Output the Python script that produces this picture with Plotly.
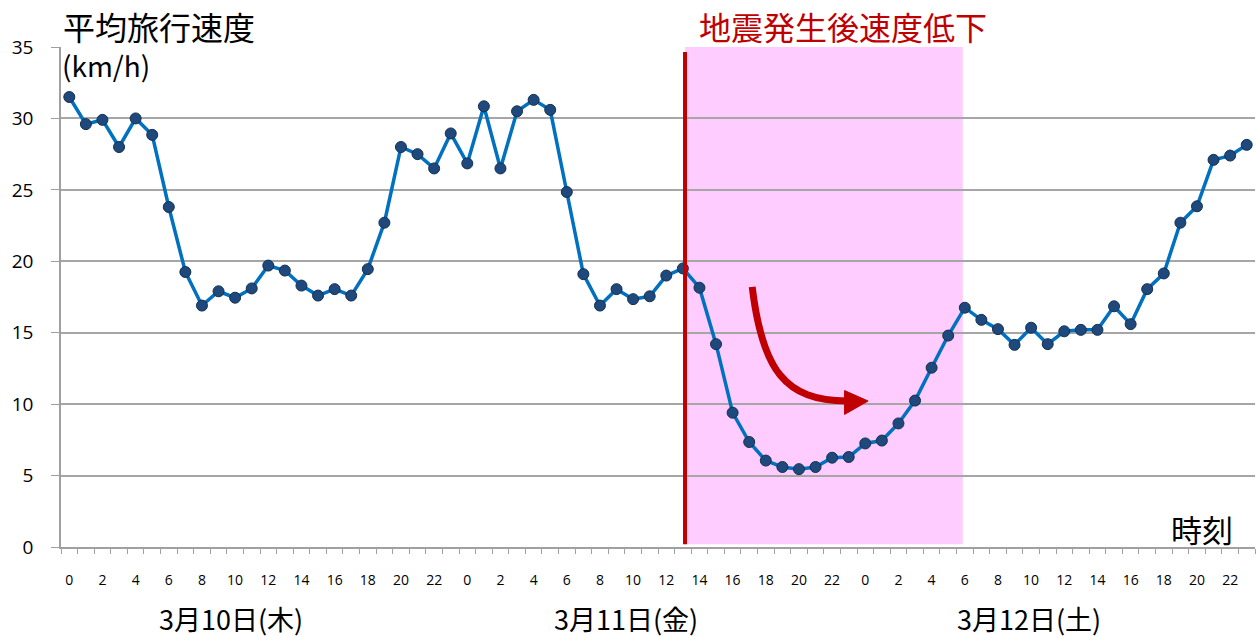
import plotly.graph_objects as go

# Hourly average travel speed (km/h), 3/10 00:00 through 3/12 23:00
day1_speed = [31.5, 29.6, 29.9, 28.0, 30.0, 28.85, 23.8, 19.25, 16.9, 17.9, 17.45, 18.1,
              19.7, 19.35, 18.3, 17.6, 18.05, 17.6, 19.45, 22.7, 28.0, 27.5, 26.5, 28.95]
day2_speed = [26.85, 30.85, 26.5, 30.5, 31.3, 30.6, 24.85, 19.1, 16.9, 18.05, 17.35, 17.55,
              19.0, 19.5, 18.15, 14.2, 9.4, 7.35, 6.05, 5.6, 5.45, 5.6, 6.25, 6.3]
day3_speed = [7.25, 7.45, 8.65, 10.25, 12.55, 14.8, 16.75, 15.9, 15.25, 14.15, 15.35, 14.2,
              15.1, 15.2, 15.2, 16.85, 15.6, 18.05, 19.15, 22.7, 23.85, 27.1, 27.4, 28.15]

hours = list(range(24))
date_labels = ["3月10日(木)", "3月11日(金)", "3月12日(土)"]
date_label_pos = [9.75, 33.6, 57.9]

speed = day1_speed + day2_speed + day3_speed
idx = list(range(len(speed)))
hour_labels = [str(h) for _ in range(3) for h in hours]

# Earthquake marker and the slowdown period (in hour-index units)
quake_x = 37.13
slow_end_x = 53.88

JP = "Noto Sans CJK JP"
NUM = "Open Sans"
RED = "#C00000"

fig = go.Figure()
fig.add_trace(go.Scatter(
    x=idx, y=speed, mode="lines+markers",
    line=dict(color="#0070C0", width=3.5),
    marker=dict(size=11, color="#1F497D", line=dict(color="#13304F", width=1)),
    showlegend=False, hoverinfo="skip",
))

shapes = [
    # slowdown period band
    dict(type="rect", xref="x", yref="y", x0=quake_x, x1=slow_end_x, y0=0.2, y1=35,
         fillcolor="#FFCCFF", line=dict(width=0), layer="below"),
    # earthquake line
    dict(type="line", xref="x", yref="y", x0=quake_x, x1=quake_x, y0=0.2, y1=34.65,
         line=dict(color=RED, width=4), layer="above"),
    # curved arrow showing the drop
    dict(type="path", xref="x", yref="y",
         path="M 41.18,18.21 C 41.78,12.4 43.16,10.22 46.9,10.22",
         line=dict(color=RED, width=7), layer="above"),
    dict(type="path", xref="x", yref="y",
         path="M 46.75,10.95 L 48.17,10.22 L 46.75,9.28 Z",
         fillcolor=RED, line=dict(color=RED, width=1), layer="above"),
]

annotations = [
    dict(text="地震発生後速度低下", xref="paper", yref="paper", x=0.533, y=1.043,
         xanchor="left", yanchor="middle", showarrow=False,
         font=dict(family=JP, size=32, color=RED)),
    dict(text="平均旅行速度", xref="paper", yref="paper", x=0.0, y=1.043,
         xanchor="left", yanchor="middle", showarrow=False,
         font=dict(family=JP, size=32, color="#000000")),
    dict(text="(km/h)", xref="paper", yref="paper", x=-0.001, y=0.965,
         xanchor="left", yanchor="middle", showarrow=False,
         font=dict(family=JP, size=28, color="#000000")),
    dict(text="時刻", xref="paper", yref="paper", x=0.956, y=0.037,
         xanchor="center", yanchor="middle", showarrow=False,
         font=dict(family=JP, size=31, color="#000000")),
]
for label, pos in zip(date_labels, date_label_pos):
    annotations.append(dict(text=label, xref="x", yref="paper", x=pos, y=-0.1428,
                            xanchor="center", yanchor="middle", showarrow=False,
                            borderpad=0, borderwidth=0,
                            font=dict(family=JP, size=27, color="#000000")))

fig.update_layout(
    width=1257, height=637,
    margin=dict(l=61, r=2, t=47, b=90),
    paper_bgcolor="white", plot_bgcolor="white",
    shapes=shapes, annotations=annotations,
    xaxis=dict(
        range=[-0.5, 71.5], showgrid=False, zeroline=False,
        tickmode="array", tickvals=idx[::2], ticktext=hour_labels[::2],
        ticks="outside", ticklen=5, tickcolor="rgba(0,0,0,0)",
        ticklabelstandoff=14,
        tickfont=dict(family=NUM, size=14, color="#000000"),
        showline=True, linecolor="#A0A0A0", linewidth=1.5,
        minor=dict(tickmode="array", tickvals=[i - 0.5 for i in range(73)],
                   ticks="outside", ticklen=5, tickcolor="#A0A0A0", tickwidth=1.2),
    ),
    yaxis=dict(
        range=[0, 35], tickmode="array", tickvals=[0, 5, 10, 15, 20, 25, 30, 35],
        showgrid=True, gridcolor="#A6A6A6", gridwidth=1.5, zeroline=False,
        ticks="outside", ticklen=8, tickcolor="#A0A0A0", tickwidth=1.2,
        ticklabelstandoff=14,
        tickfont=dict(family=NUM, size=19, color="#000000"),
        showline=True, linecolor="#A0A0A0", linewidth=1.5,
    ),
)

fig.write_html("out.html")
